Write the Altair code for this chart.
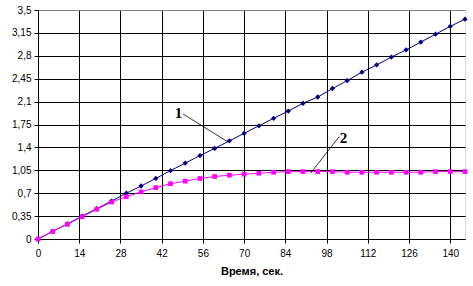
import altair as alt
import pandas as pd

t = [0, 5, 10, 15, 20, 25, 30, 35, 40, 45, 50, 55, 60, 65, 70, 75, 80, 85, 90, 95,
     100, 105, 110, 115, 120, 125, 130, 135, 140, 145]
s1 = [0, 0.116, 0.232, 0.35, 0.465, 0.58, 0.70, 0.81, 0.925, 1.045, 1.16, 1.275, 1.385, 1.50,
      1.615, 1.73, 1.845, 1.955, 2.075, 2.17, 2.30, 2.42, 2.55, 2.66, 2.78, 2.89, 3.01, 3.13, 3.25, 3.36]
s2 = [0, 0.115, 0.225, 0.34, 0.455, 0.565, 0.645, 0.72, 0.785, 0.845, 0.885, 0.925, 0.955, 0.975,
      0.99, 1.005, 1.02, 1.03, 1.03, 1.03, 1.03, 1.02, 1.02, 1.02, 1.02, 1.02, 1.02, 1.03, 1.03, 1.03]

x_ticks = [0, 14, 28, 42, 56, 70, 84, 98, 112, 126, 140]
y_ticks = [0, 0.35, 0.7, 1.05, 1.4, 1.75, 2.1, 2.45, 2.8, 3.15, 3.5]

ann_labels = ["1", "2"]
ann_tx = [47.7, 103.7]
ann_ty = [1.93, 1.545]
ann_x1 = [49.3, 102.3]
ann_y1 = [1.91, 1.566]
ann_x2 = [64.6, 92.6]
ann_y2 = [1.48, 1.008]

df1 = pd.DataFrame({"t": t, "v": s1})
df2 = pd.DataFrame({"t": t, "v": s2})
ann = pd.DataFrame({"label": ann_labels, "tx": ann_tx, "ty": ann_ty,
                    "x1": ann_x1, "y1": ann_y1, "x2": ann_x2, "y2": ann_y2})

FONT = "Liberation Sans"

xscale = alt.Scale(domain=[0, 145], nice=False, zero=False)
yscale = alt.Scale(domain=[0, 3.5], nice=False, zero=False)

xaxis = alt.Axis(values=x_ticks, title="Время, сек.", titleFont=FONT, titleFontSize=11,
                 titleFontWeight="bold", titleColor="black", titlePadding=7,
                 labelFont=FONT, labelFontSize=10, labelColor="black", labelPadding=5,
                 tickSize=4, tickColor="black", domainColor="black", grid=True,
                 gridColor="black", gridWidth=1, labelFlush=False, labelOverlap=False)
yaxis = alt.Axis(values=y_ticks, title=None, format=".2~f",
                 labelFont=FONT, labelFontSize=10, labelColor="black", labelPadding=3,
                 tickSize=4, tickColor="black", domainColor="black", grid=True,
                 gridColor=alt.condition("datum.value >= 3.5", alt.value("#808080"), alt.value("black")),
                 gridWidth=1, labelFlush=False, labelOverlap=False,
                 labelBound=False)


def X(f):
    return alt.X(f, type="quantitative", scale=xscale, axis=xaxis)


def Y(f):
    return alt.Y(f, type="quantitative", scale=yscale, axis=yaxis)


blue = "#000080"
mag = "#FF00FF"

l1 = alt.Chart(df1).mark_line(color=blue, strokeWidth=1).encode(x=X("t"), y=Y("v"))
p1 = alt.Chart(df1).mark_point(shape="diamond", filled=True, color=blue, size=28, opacity=1).encode(
    x=X("t"), y=Y("v"))
l2 = alt.Chart(df2).mark_line(color=mag, strokeWidth=1).encode(x=X("t"), y=Y("v"))
p2 = alt.Chart(df2).mark_point(shape="square", filled=True, color=mag, size=22, opacity=1).encode(
    x=X("t"), y=Y("v"))

rules = alt.Chart(ann).mark_rule(color="black", strokeWidth=0.8).encode(
    x=X("x1"), y=Y("y1"), x2="x2:Q", y2="y2:Q")
texts = alt.Chart(ann).mark_text(font="Liberation Serif", fontSize=15, fontWeight="bold",
                                 color="black").encode(x=X("tx"), y=Y("ty"), text="label:N")

chart = alt.layer(l1, p1, l2, p2, rules, texts).properties(
    width=427, height=229,
    autosize=alt.AutoSizeParams(type="none"),
    padding={"left": 38, "top": 10, "right": 8, "bottom": 47},
).configure_view(stroke="#808080", strokeWidth=1, fill="white").configure(
    background="white").configure_axis(labelOverlap=False)

chart.save("out.html", embed_options={"renderer": "svg", "actions": False,
                                      "formatLocale": {"decimal": ",", "thousands": "\u00a0",
                                                       "grouping": [3], "currency": ["", ""]}})
